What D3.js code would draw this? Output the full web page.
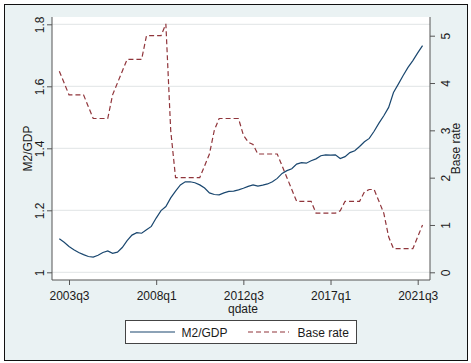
<!DOCTYPE html>
<html>
<head>
<meta charset="utf-8">
<script src="https://cdn.jsdelivr.net/npm/d3@7"></script>
<style>
  html, body { margin: 0; padding: 0; background: #ffffff; }
  svg { display: block; }
  text { font-family: "Liberation Sans", Arial, sans-serif; fill: #1a1a1a; }
</style>
</head>
<body>
<svg id="chart" width="471" height="363"></svg>
<script>
// Quarterly series, 2003q1 .. 2021q4
const startYear = 2003;
const quarters = [];
for (let y = startYear; y <= 2021; y++) for (let q = 1; q <= 4; q++) quarters.push(y + "q" + q);

const m2gdp = [
  1.108, 1.097, 1.083, 1.073, 1.064, 1.057, 1.051, 1.049,
  1.055, 1.064, 1.069, 1.061, 1.065, 1.080, 1.102, 1.120,
  1.128, 1.126, 1.137, 1.148, 1.175, 1.199, 1.212, 1.240,
  1.262, 1.282, 1.292, 1.292, 1.289, 1.282, 1.272, 1.256,
  1.251, 1.250, 1.256, 1.261, 1.262, 1.266, 1.271, 1.277,
  1.282, 1.278, 1.281, 1.285, 1.292, 1.303, 1.319, 1.328,
  1.334, 1.349, 1.354, 1.352, 1.360, 1.366, 1.376, 1.379,
  1.378, 1.379, 1.367, 1.373, 1.386, 1.392, 1.406, 1.421,
  1.432, 1.455, 1.481, 1.505, 1.532, 1.580, 1.607, 1.635,
  1.661, 1.683, 1.708, 1.731
];

const baseRate = [
  4.25, 4.00, 3.75, 3.75, 3.75, 3.75, 3.50, 3.25,
  3.25, 3.25, 3.25, 3.75, 4.00, 4.25, 4.50, 4.50,
  4.50, 4.50, 5.00, 5.00, 5.00, 5.00, 5.25, 3.00,
  2.00, 2.00, 2.00, 2.00, 2.00, 2.00, 2.25, 2.50,
  3.00, 3.25, 3.25, 3.25, 3.25, 3.25, 2.90, 2.75,
  2.70, 2.50, 2.50, 2.50, 2.50, 2.50, 2.25, 2.00,
  1.75, 1.50, 1.50, 1.50, 1.50, 1.25, 1.25, 1.25,
  1.25, 1.25, 1.30, 1.50, 1.50, 1.50, 1.50, 1.70,
  1.75, 1.75, 1.50, 1.25, 0.75, 0.50, 0.50, 0.50,
  0.50, 0.50, 0.75, 1.00
];

const xTickLabels = ["2003q3", "2008q1", "2012q3", "2017q1", "2021q3"];
const leftTicks = [1, 1.2, 1.4, 1.6, 1.8];
const rightTicks = [0, 1, 2, 3, 4, 5];

const navy = "#1a476f";
const maroon = "#90353b";

const svg = d3.select("#chart");

// graph region background and outer frame
svg.append("rect")
  .attr("x", 4.5).attr("y", 4.5).attr("width", 463).attr("height", 356)
  .attr("fill", "#eaf2f3").attr("stroke", "#111").attr("stroke-width", 1);

const plot = { left: 52, right: 430, top: 17, bottom: 280 };

svg.append("rect")
  .attr("x", plot.left).attr("y", plot.top)
  .attr("width", plot.right - plot.left).attr("height", plot.bottom - plot.top)
  .attr("fill", "#ffffff");

const qIndex = d => quarters.indexOf(d);
const x = d3.scaleLinear()
  .domain([qIndex("2003q3"), qIndex("2021q3")])
  .range([69, 417.7]);
const yL = d3.scaleLinear().domain([1, 1.8]).range([272.3, 24.3]);
const yR = d3.scaleLinear().domain([0, 5]).range([272.3, 35.7]);

// horizontal gridlines from the left axis
svg.append("g").selectAll("line").data(leftTicks).join("line")
  .attr("x1", plot.left).attr("x2", plot.right)
  .attr("y1", d => yL(d)).attr("y2", d => yL(d))
  .attr("stroke", "#e6e9ea").attr("stroke-width", 1.2);

function styleAxis(g) {
  g.select(".domain").remove();
  g.selectAll(".tick line").attr("stroke", "#555").attr("stroke-width", 1);
  g.selectAll(".tick text")
    .attr("font-size", 12)
    .attr("font-family", '"Liberation Sans", Arial, sans-serif')
    .attr("fill", "#1a1a1a");
}

// bottom axis
const gx = svg.append("g").attr("transform", `translate(0,${plot.bottom})`)
  .call(d3.axisBottom(x)
    .tickValues(xTickLabels.map(qIndex))
    .tickFormat(i => quarters[i])
    .tickSizeOuter(0).tickSize(5).tickPadding(7));
styleAxis(gx);
gx.selectAll(".tick text").attr("dy", 0).attr("y", 19.5);

// left axis, labels rotated
const gl = svg.append("g").attr("transform", `translate(${plot.left},0)`)
  .call(d3.axisLeft(yL).tickValues(leftTicks).tickFormat(d3.format("~g"))
    .tickSizeOuter(0).tickSize(5));
styleAxis(gl);
gl.selectAll(".tick text")
  .attr("transform", "rotate(-90)")
  .attr("x", 0).attr("y", -8.5).attr("dy", 0)
  .attr("text-anchor", "middle");

// right axis, labels rotated
const gr = svg.append("g").attr("transform", `translate(${plot.right},0)`)
  .call(d3.axisRight(yR).tickValues(rightTicks).tickFormat(d3.format("d"))
    .tickSizeOuter(0).tickSize(5));
styleAxis(gr);
gr.selectAll(".tick text")
  .attr("transform", "rotate(-90)")
  .attr("x", 0).attr("y", 19.5).attr("dy", 0)
  .attr("text-anchor", "middle");

// axis lines
const axisLines = [
  [plot.left, plot.top, plot.left, plot.bottom],
  [plot.right, plot.top, plot.right, plot.bottom],
  [plot.left, plot.bottom, plot.right, plot.bottom]
];
svg.append("g").selectAll("line").data(axisLines).join("line")
  .attr("x1", d => d[0]).attr("y1", d => d[1])
  .attr("x2", d => d[2]).attr("y2", d => d[3])
  .attr("stroke", "#555").attr("stroke-width", 1);

// axis titles
svg.append("text")
  .attr("transform", `translate(32,${(plot.top + plot.bottom) / 2}) rotate(-90)`)
  .attr("text-anchor", "middle").attr("font-size", 12).text("M2/GDP");
svg.append("text")
  .attr("transform", `translate(459.5,${(plot.top + plot.bottom) / 2}) rotate(-90)`)
  .attr("text-anchor", "middle").attr("font-size", 12).text("Base rate");
svg.append("text")
  .attr("x", (plot.left + plot.right) / 2 + 2).attr("y", 312.5)
  .attr("text-anchor", "middle").attr("font-size", 12).text("qdate");

// series
const lineM2 = d3.line().x((d, i) => x(i)).y(d => yL(d));
const lineRate = d3.line().x((d, i) => x(i)).y(d => yR(d));

svg.append("path").datum(baseRate)
  .attr("d", lineRate).attr("fill", "none")
  .attr("stroke", maroon).attr("stroke-width", 1.2)
  .attr("stroke-dasharray", "5,3");

svg.append("path").datum(m2gdp)
  .attr("d", lineM2).attr("fill", "none")
  .attr("stroke", navy).attr("stroke-width", 1.2);

// legend
const lg = svg.append("g");
lg.append("rect")
  .attr("x", 125.5).attr("y", 320.5).attr("width", 231).attr("height", 23)
  .attr("fill", "#ffffff").attr("stroke", "#444").attr("stroke-width", 1);
lg.append("line").attr("x1", 130).attr("x2", 175).attr("y1", 332).attr("y2", 332)
  .attr("stroke", navy).attr("stroke-width", 1.2);
lg.append("text").attr("x", 181.5).attr("y", 336.5).attr("font-size", 12).text("M2/GDP");
lg.append("line").attr("x1", 248).attr("x2", 289).attr("y1", 332).attr("y2", 332)
  .attr("stroke", maroon).attr("stroke-width", 1.2).attr("stroke-dasharray", "5,3");
lg.append("text").attr("x", 297.5).attr("y", 336.5).attr("font-size", 12).text("Base rate");
</script>
</body>
</html>
